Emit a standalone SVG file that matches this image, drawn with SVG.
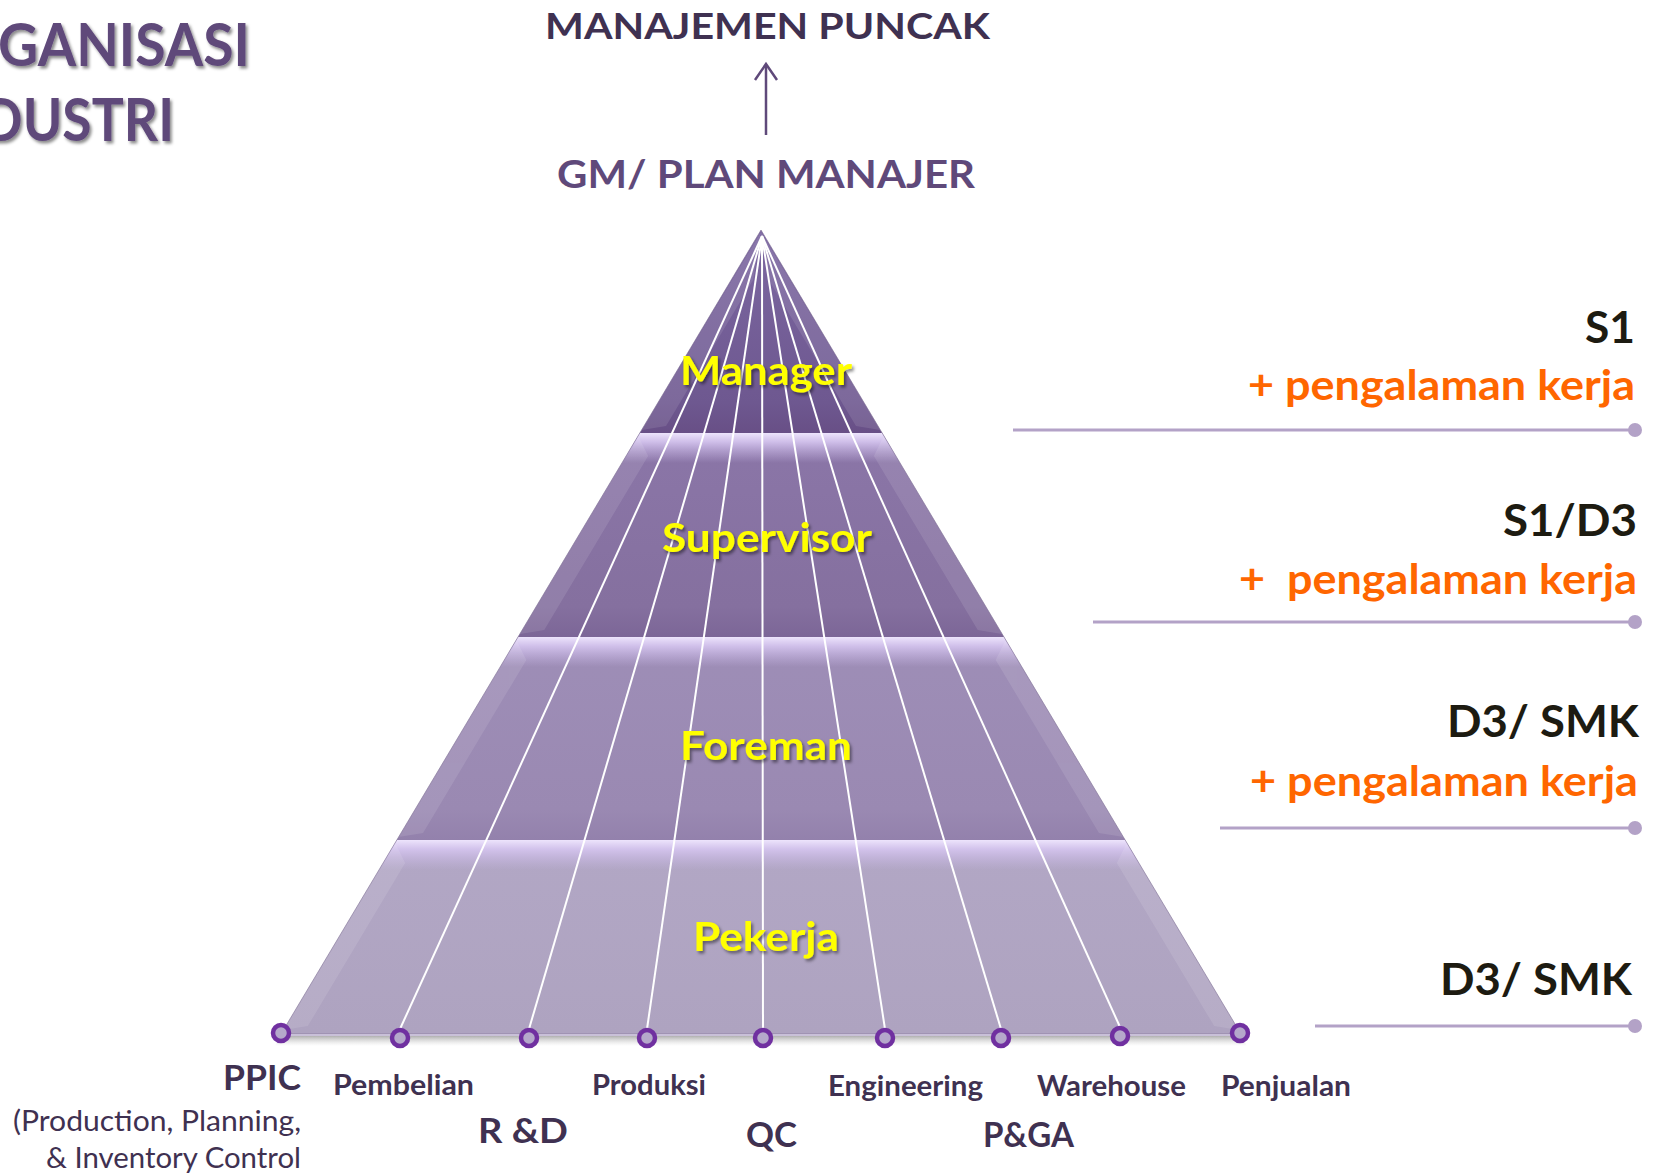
<svg xmlns="http://www.w3.org/2000/svg" width="1654" height="1174" viewBox="0 0 1654 1174">
<style>
.t{font-family:Lato,"Open Sans","Liberation Sans",sans-serif;font-weight:700}
.r{font-weight:400}
.dp{fill:#3F3151}
.mp{fill:#5F497A}
.yl{fill:#FFFF00;filter:url(#sh)}
.or{fill:#FF6600}
.bk{fill:#1D1B11}
.fan{stroke:#FFFFFF;stroke-width:2;fill:none}
.dot{fill:#B5A8CB;stroke:#7030A0;stroke-width:4.5}
.lvl{stroke:#B3A2C7;stroke-width:3}
.lvd{fill:#B3A2C7}
</style>
<defs>
<filter id="sh" x="-10%" y="-20%" width="130%" height="150%">
<feDropShadow dx="2" dy="2.5" stdDeviation="1.5" flood-color="#000" flood-opacity="0.45"/>
</filter>
<linearGradient id="g1" x1="0" y1="0" x2="0" y2="1">
<stop offset="0" stop-color="#7C67A1"/><stop offset="0.85" stop-color="#6E5890"/><stop offset="1" stop-color="#684F86"/>
</linearGradient>
<linearGradient id="g2" x1="0" y1="0" x2="0" y2="1">
<stop offset="0" stop-color="#8B76A8"/><stop offset="0.85" stop-color="#85709F"/><stop offset="1" stop-color="#7C6697"/>
</linearGradient>
<linearGradient id="g3" x1="0" y1="0" x2="0" y2="1">
<stop offset="0" stop-color="#9E8EB7"/><stop offset="0.85" stop-color="#9A89B2"/><stop offset="1" stop-color="#9381AC"/>
</linearGradient>
<linearGradient id="g4" x1="0" y1="0" x2="0" y2="1">
<stop offset="0" stop-color="#B2A7C5"/><stop offset="1" stop-color="#AEA3C0"/>
</linearGradient>
<linearGradient id="hl" x1="0" y1="0" x2="0" y2="1">
<stop offset="0" stop-color="#EDE4FC" stop-opacity="1"/>
<stop offset="0.3" stop-color="#D6C6F0" stop-opacity="0.9"/>
<stop offset="1" stop-color="#C8B6E6" stop-opacity="0"/>
</linearGradient>
<linearGradient id="bs" x1="0" y1="0" x2="0" y2="1">
<stop offset="0" stop-color="#8E8E8E" stop-opacity="0.7"/><stop offset="1" stop-color="#CCCCCC" stop-opacity="0"/>
</linearGradient>
</defs>

<g id="title">
<text class="t mp" x="-2" y="66" font-size="60" textLength="252" lengthAdjust="spacingAndGlyphs" filter="url(#sh)">GANISASI</text>
<text class="t mp" x="-18" y="141" font-size="60" textLength="192" lengthAdjust="spacingAndGlyphs" filter="url(#sh)">DUSTRI</text>
</g>

<g id="top-management">
<text class="t dp" x="545" y="39" font-size="36" textLength="445" lengthAdjust="spacingAndGlyphs">MANAJEMEN PUNCAK</text>
</g>
<g id="gm">
<text class="t mp" x="557" y="188" font-size="39" textLength="418" lengthAdjust="spacingAndGlyphs">GM/ PLAN MANAJER</text>
</g>

<g id="pyramid">
<polygon points="281,1036 1241,1036 1247,1046 275,1046" fill="url(#bs)"/>
<polygon points="761,230 882.2,433 639.8,433" fill="url(#g1)"/>
<polygon points="639.8,433 882.2,433 1004,637 518,637" fill="url(#g2)"/>
<polygon points="518,637 1004,637 1125.2,840 396.8,840" fill="url(#g3)"/>
<polygon points="396.8,840 1125.2,840 1241,1034 281,1034" fill="url(#g4)"/>
<polygon points="639.8,433 882.2,433 900.1,463 621.9,463" fill="url(#hl)"/>
<polygon points="518,637 1004,637 1021.9,667 500.1,667" fill="url(#hl)"/>
<polygon points="396.8,840 1125.2,840 1143.1,870 378.9,870" fill="url(#hl)"/>
<g fill="#FFFFFF" opacity="0.1">
<polygon points="761,232 753.1,280 666,426 641.6,430"/>
<polygon points="761,232 768.9,280 856,426 880.4,430"/>
<polygon points="638,436 648.1,456 544.2,630 519.8,634"/>
<polygon points="884,436 873.9,456 977.8,630 1002.2,634"/>
<polygon points="516.2,640 526.3,660 423,833 398.2,837"/>
<polygon points="1005.8,640 995.7,660 1099,833 1123.8,837"/>
<polygon points="395,843 405.1,863 307.8,1026 283.4,1030"/>
<polygon points="1127,843 1116.9,863 1214.2,1026 1238.6,1030"/>
</g>
<polygon points="761,230 1241,1034 281,1034" fill="none" stroke="#7E6F95" stroke-width="1" opacity="0.6"/>
<line x1="281" y1="1035" x2="1241" y2="1035" stroke="#C9C0D8" stroke-width="2"/>
</g>

<g id="connectors">
<line x1="766" y1="135" x2="766" y2="66" stroke="#5F497A" stroke-width="2.5"/>
<polyline points="755,80 766,64 777,80" fill="none" stroke="#5F497A" stroke-width="2.5"/>
<line class="fan" x1="762" y1="236" x2="400" y2="1029"/>
<line class="fan" x1="762" y1="236" x2="529" y2="1029"/>
<line class="fan" x1="762" y1="236" x2="647" y2="1029"/>
<line class="fan" x1="762" y1="236" x2="763" y2="1029"/>
<line class="fan" x1="762" y1="236" x2="885" y2="1029"/>
<line class="fan" x1="762" y1="236" x2="1001" y2="1029"/>
<line class="fan" x1="762" y1="236" x2="1120" y2="1027"/>
<line class="lvl" x1="1013" y1="430" x2="1635" y2="430"/><circle class="lvd" cx="1635" cy="430" r="7"/>
<line class="lvl" x1="1093" y1="622" x2="1635" y2="622"/><circle class="lvd" cx="1635" cy="622" r="7"/>
<line class="lvl" x1="1220" y1="828" x2="1635" y2="828"/><circle class="lvd" cx="1635" cy="828" r="7"/>
<line class="lvl" x1="1315" y1="1026" x2="1635" y2="1026"/><circle class="lvd" cx="1635" cy="1026" r="7"/>
</g>

<g id="lvl-manager"><text class="t yl" x="680" y="385" font-size="40" textLength="172" lengthAdjust="spacingAndGlyphs">Manager</text></g>
<g id="lvl-supervisor"><text class="t yl" x="662" y="552" font-size="41" textLength="210" lengthAdjust="spacingAndGlyphs">Supervisor</text></g>
<g id="lvl-foreman"><text class="t yl" x="680" y="760" font-size="40" textLength="172" lengthAdjust="spacingAndGlyphs">Foreman</text></g>
<g id="lvl-pekerja"><text class="t yl" x="693" y="951" font-size="40" textLength="146" lengthAdjust="spacingAndGlyphs">Pekerja</text></g>

<g id="req-manager">
<text class="t bk" x="1585" y="343" font-size="44" textLength="50" lengthAdjust="spacingAndGlyphs">S1</text>
<text class="t or" x="1248" y="400" font-size="42" textLength="387" lengthAdjust="spacingAndGlyphs">+ pengalaman kerja</text>
</g>
<g id="req-supervisor">
<text class="t bk" x="1503" y="536" font-size="44" textLength="134" lengthAdjust="spacingAndGlyphs">S1/D3</text>
<text class="t or" x="1239" y="594" font-size="42" textLength="398" lengthAdjust="spacingAndGlyphs" xml:space="preserve">+  pengalaman kerja</text>
</g>
<g id="req-foreman">
<text class="t bk" x="1447" y="737" font-size="44" textLength="192" lengthAdjust="spacingAndGlyphs">D3/ SMK</text>
<text class="t or" x="1250" y="796" font-size="42" textLength="388" lengthAdjust="spacingAndGlyphs">+ pengalaman kerja</text>
</g>
<g id="req-pekerja">
<text class="t bk" x="1440" y="995" font-size="44" textLength="192" lengthAdjust="spacingAndGlyphs">D3/ SMK</text>
</g>

<g id="dept-ppic">
<circle class="dot" cx="281" cy="1033" r="8"/>
<text class="t dp" x="223" y="1090" font-size="35" textLength="78" lengthAdjust="spacingAndGlyphs">PPIC</text>
<text class="t dp r" x="13" y="1131" font-size="28" textLength="288" lengthAdjust="spacingAndGlyphs">(Production, Planning,</text>
<text class="t dp r" x="46" y="1168" font-size="28" textLength="255" lengthAdjust="spacingAndGlyphs">&amp; Inventory Control</text>
</g>
<g id="dept-pembelian">
<circle class="dot" cx="400" cy="1038" r="8"/>
<text class="t dp" x="333" y="1095" font-size="28" textLength="141" lengthAdjust="spacingAndGlyphs">Pembelian</text>
</g>
<g id="dept-rd">
<circle class="dot" cx="529" cy="1038" r="8"/>
<text class="t dp" x="478" y="1143" font-size="35" textLength="90" lengthAdjust="spacingAndGlyphs">R &amp;D</text>
</g>
<g id="dept-produksi">
<circle class="dot" cx="647" cy="1038" r="8"/>
<text class="t dp" x="592" y="1095" font-size="28" textLength="114" lengthAdjust="spacingAndGlyphs">Produksi</text>
</g>
<g id="dept-qc">
<circle class="dot" cx="763" cy="1038" r="8"/>
<text class="t dp" x="746" y="1147" font-size="35" textLength="51" lengthAdjust="spacingAndGlyphs">QC</text>
</g>
<g id="dept-engineering">
<circle class="dot" cx="885" cy="1038" r="8"/>
<text class="t dp" x="828" y="1096" font-size="28" textLength="155" lengthAdjust="spacingAndGlyphs">Engineering</text>
</g>
<g id="dept-pga">
<circle class="dot" cx="1001" cy="1038" r="8"/>
<text class="t dp" x="983" y="1147" font-size="35" textLength="91" lengthAdjust="spacingAndGlyphs">P&amp;GA</text>
</g>
<g id="dept-warehouse">
<circle class="dot" cx="1120" cy="1036" r="8"/>
<text class="t dp" x="1037" y="1096" font-size="28" textLength="149" lengthAdjust="spacingAndGlyphs">Warehouse</text>
</g>
<g id="dept-penjualan">
<circle class="dot" cx="1240" cy="1033" r="8"/>
<text class="t dp" x="1221" y="1096" font-size="28" textLength="130" lengthAdjust="spacingAndGlyphs">Penjualan</text>
</g>
</svg>
